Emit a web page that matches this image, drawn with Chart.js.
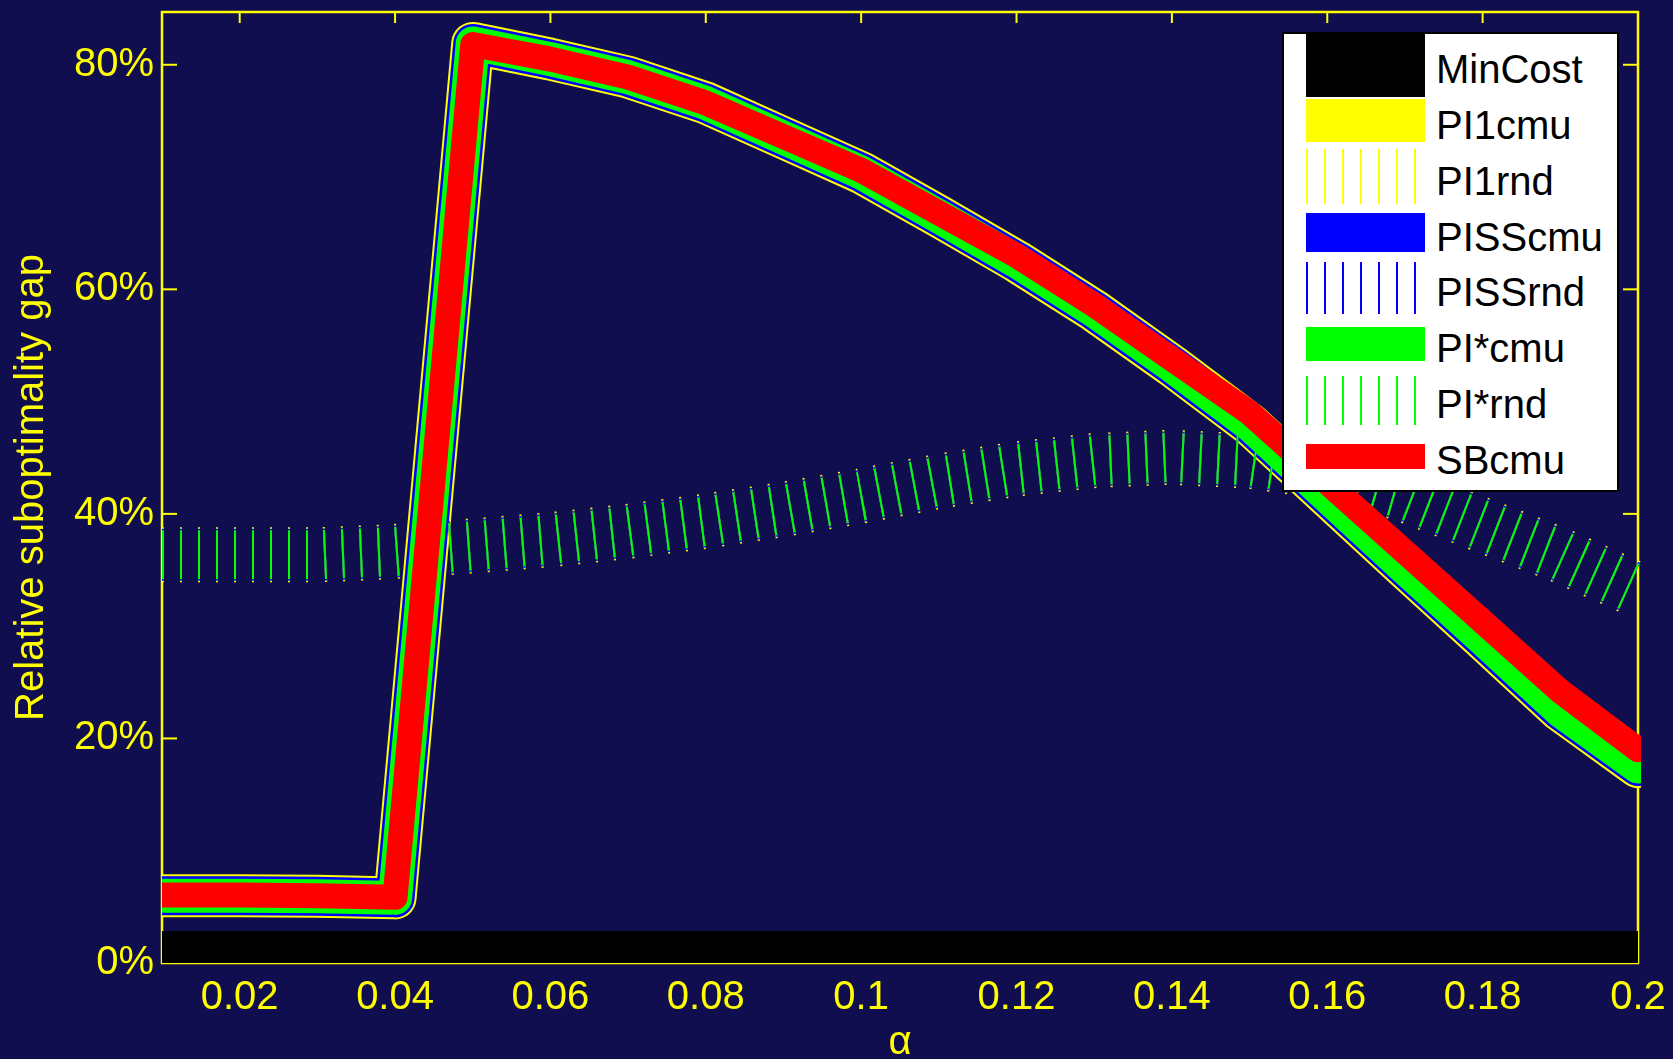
<!DOCTYPE html>
<html><head><meta charset="utf-8">
<script src="https://cdn.jsdelivr.net/npm/chart.js@4/dist/chart.umd.min.js"></script>
<style>
html,body{margin:0;padding:0;background:#100e4e;}
#wrap{position:relative;width:1673px;height:1059px;overflow:hidden;background:#100e4e;}
#c{position:absolute;left:0;top:0;}
#legend{position:absolute;left:1282px;top:32px;width:333px;height:456px;background:#fff;border:2px solid #000;}
.patch{position:absolute;left:22px;width:119px;}
.lab{position:absolute;left:152px;font-family:'Liberation Sans',Arial,sans-serif;font-size:40px;line-height:40px;color:#000;white-space:nowrap;}
</style></head>
<body><div id="wrap"><canvas id="c" width="1673" height="1059"></canvas><div id="legend"></div></div>
<script>
// ---- data ----
const alpha = [0.01,0.02,0.03,0.04,0.05,0.06,0.07,0.08,0.09,0.10,0.11,0.12,0.13,0.14,0.15,0.16,0.17,0.18,0.19,0.20];
const minCost  = [0,0,0,0,0,0,0,0,0,0,0,0,0,0,0,0,0,0,0,0];
const pi1Cmu   = [6.0,6.0,5.95,5.8,81.9,80.5,78.9,76.6,73.5,70.4,66.5,62.5,58.1,53.2,48.0,41.6,35.2,28.9,22.5,17.5];
const pi1Rnd   = [36.35,36.35,36.35,36.65,37.15,37.7,38.45,39.35,40.4,41.6,42.9,44.0,44.75,45.05,44.7,43.7,41.7,39.0,36.3,33.2];
const pissCmu  = [6.0,6.0,5.95,5.8,81.9,80.5,78.9,76.6,73.5,70.4,66.5,62.5,58.1,53.2,48.0,41.6,35.2,28.9,22.5,17.5];
const pissRnd  = [36.35,36.35,36.35,36.65,37.15,37.7,38.45,39.35,40.4,41.6,42.9,44.0,44.75,45.05,44.7,43.7,41.7,39.0,36.3,33.2];
const piStarCmu= [6.0,6.0,5.95,5.8,81.9,80.5,78.9,76.6,73.5,70.4,66.5,62.5,58.1,53.2,48.0,41.6,35.2,28.9,22.5,17.5];
const piStarRnd= [36.35,36.35,36.35,36.65,37.15,37.7,38.45,39.35,40.4,41.6,42.9,44.0,44.75,45.05,44.7,43.7,41.7,39.0,36.3,33.2];
const sbCmu    = [6.05,6.05,6.0,5.85,81.8,80.5,78.9,76.6,73.6,70.6,66.8,63.0,58.6,53.8,49.0,42.8,36.6,30.4,24.2,19.0];

const seriesNames  = ['MinCost','PI1cmu','PI1rnd','PISScmu','PISSrnd','PI*cmu','PI*rnd','SBcmu'];
const seriesValues = [minCost,pi1Cmu,pi1Rnd,pissCmu,pissRnd,piStarCmu,piStarRnd,sbCmu];

const xTicks = [0.02,0.04,0.06,0.08,0.10,0.12,0.14,0.16,0.18,0.20];
const xTickLabels = ['0.02','0.04','0.06','0.08','0.1','0.12','0.14','0.16','0.18','0.2'];
const yTicks = [0,20,40,60,80];
const yTickLabels = ['0%','20%','40%','60%','80%'];

// ---- styles ----
const seriesColors  = ['#000000','#ffff00','#ffff00','#0000ff','#0000ff','#00ff00','#00ff00','#ff0000'];
const seriesWidths  = [64,43,55,39,52,34,49,25];
const seriesHatched = [false,false,true,false,true,false,true,false];
const FONT = "'Liberation Sans', Arial, sans-serif";
const YEL = '#ffff00';

const datasets = seriesNames.map((name, i) => ({
  label: name,
  data: alpha.map((a, k) => ({x: a, y: seriesValues[i][k]})),
  borderColor: seriesColors[i],
  backgroundColor: seriesColors[i],
  borderWidth: seriesWidths[i],
  borderDash: seriesHatched[i] ? [2, 16] : [],
  borderCapStyle: (seriesHatched[i] || i === 0) ? 'butt' : 'round',
  borderJoinStyle: seriesHatched[i] ? 'miter' : 'round',
  pointRadius: 0,
  pointHoverRadius: 0,
  fill: false,
  tension: 0,
  order: seriesNames.length - 1 - i,
  clip: {left: 0, top: 0, right: 3, bottom: 0}
}));

const axesBox = {
  id: 'axesBox',
  beforeDatasetsDraw(chart) {
    const {ctx, chartArea: a, scales: {x, y}} = chart;
    ctx.save();
    ctx.strokeStyle = YEL;
    ctx.lineWidth = 2.5;
    ctx.strokeRect(a.left, a.top, a.right - a.left, a.bottom - a.top);
    ctx.lineWidth = 2;
    const seg = (x1, y1, x2, y2) => { ctx.beginPath(); ctx.moveTo(x1, y1); ctx.lineTo(x2, y2); ctx.stroke(); };
    xTicks.forEach(v => {
      const px = x.getPixelForValue(v);
      seg(px, a.bottom, px, a.bottom - 11);
      seg(px, a.top, px, a.top + 11);
    });
    yTicks.forEach(v => {
      const py = y.getPixelForValue(v);
      seg(a.left, py, a.left + 15, py);
      seg(a.right, py, a.right - 15, py);
    });
    ctx.restore();
  }
};

new Chart(document.getElementById('c'), {
  type: 'line',
  data: {datasets},
  options: {
    responsive: false,
    devicePixelRatio: 1,
    animation: false,
    events: [],
    layout: {padding: {top: 12, right: 35, bottom: 0, left: 0}},
    plugins: {legend: {display: false}, tooltip: {enabled: false}},
    scales: {
      x: {
        type: 'linear', min: 0.01, max: 0.2,
        afterBuildTicks: s => { s.ticks = xTicks.map(v => ({value: v})); },
        afterFit: s => { s.height = 96; s.paddingLeft = 0; s.paddingRight = 0; },
        grid: {display: false, drawTicks: false},
        border: {display: false},
        ticks: {autoSkip: false, maxRotation: 0, minRotation: 0, color: YEL, padding: 11,
                font: {family: FONT, size: 40},
                callback: (v, i) => xTickLabels[i]},
        title: {display: true, text: 'α', color: YEL, font: {family: FONT, size: 40, lineHeight: 0.8},
                padding: {top: 0, bottom: 0}}
      },
      y: {
        type: 'linear', min: 0, max: 84.7,
        afterBuildTicks: s => { s.ticks = yTicks.map(v => ({value: v})); },
        afterFit: s => { s.width = 162; s.paddingTop = 0; s.paddingBottom = 0; },
        grid: {display: false, drawTicks: false},
        border: {display: false},
        ticks: {color: YEL, padding: 8, font: {family: FONT, size: 40},
                callback: (v, i) => yTickLabels[i]},
        title: {display: true, text: 'Relative suboptimality gap', color: YEL,
                font: {family: FONT, size: 40}, padding: {top: 8, bottom: 0}}
      }
    }
  },
  plugins: [axesBox]
});

// ---- legend (HTML) ----
const legend = document.getElementById('legend');
seriesNames.forEach((name, i) => {
  const c = 31 + 55.86 * i;           // row centre relative to legend inner box
  const h = seriesWidths[i];
  const p = document.createElement('div');
  p.className = 'patch';
  p.style.top = (c - h / 2) + 'px';
  p.style.height = h + 'px';
  if (seriesHatched[i]) {
    p.style.background = 'repeating-linear-gradient(to right,' + seriesColors[i] + ' 0px,' + seriesColors[i] + ' 2px,transparent 2px,transparent 18px)';
  } else {
    p.style.background = seriesColors[i];
  }
  legend.appendChild(p);
  const t = document.createElement('div');
  t.className = 'lab';
  t.style.top = (c - 16) + 'px';
  t.textContent = name;
  legend.appendChild(t);
});
</script>
</body></html>
